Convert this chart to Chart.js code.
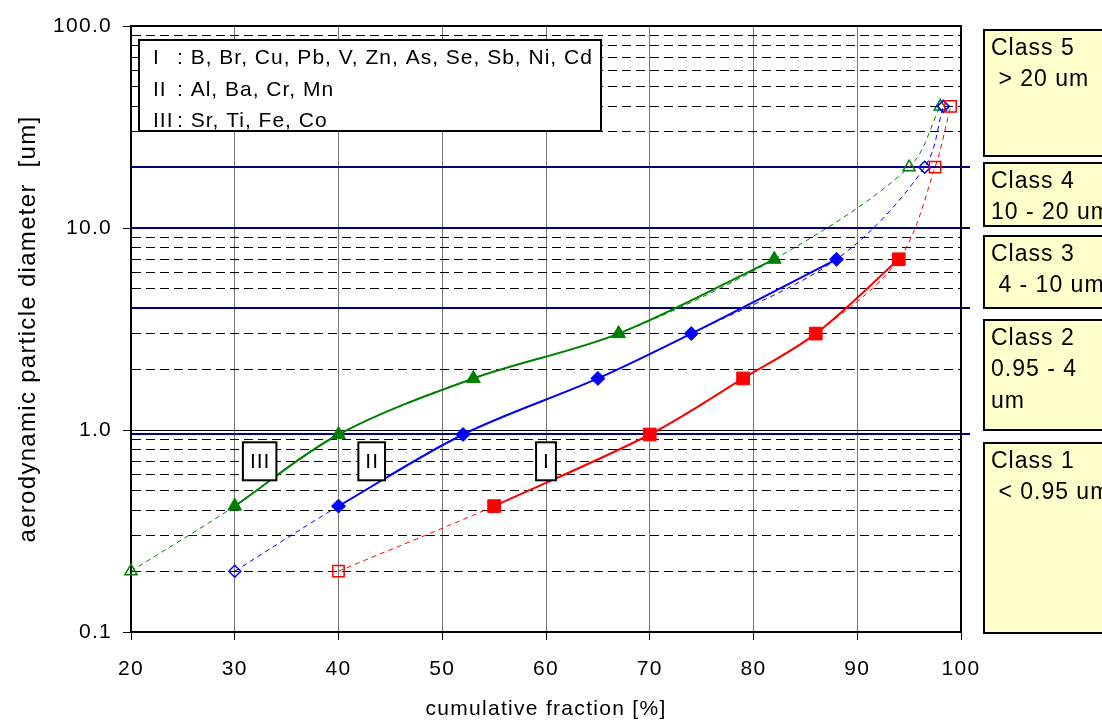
<!DOCTYPE html>
<html>
<head>
<meta charset="utf-8">
<title>Cumulative particle size distribution</title>
<script src="https://cdn.jsdelivr.net/npm/chart.js@4.4.1/dist/chart.umd.min.js"></script>
<style>
  html, body { margin: 0; padding: 0; background: #fff; }
  #wrap { width: 1102px; height: 722px; position: relative; }
</style>
</head>
<body>
<div id="wrap"><canvas id="sizeChart"></canvas></div>
<script>
// stage cut diameters [um], shared by all element groups
const diameters = [0.2, 0.42, 0.95, 1.8, 3.0, 7.0, 20, 40];
// measured stages get filled markers, the others are extrapolated
const measured = [false, true, true, true, true, true, false, false];

// cumulative fraction [%] per element group
const fractionI = [40, 55, 70, 79, 86, 94, 97.5, 99];
const fractionII = [30, 40, 52, 65, 74, 88, 96.5, 98.3];
const fractionIII = [20, 30, 40, 53, 67, 82, 95, 98];

const yMajor = [0.1, 1, 10, 100];
const yDecades = [0.1, 1, 10];

// size class limits [um]
const classBounds = [0.95, 4, 10, 20];
const classLabels = [
  ['Class 5', ' > 20 um'],
  ['Class 4', '10 - 20 um'],
  ['Class 3', ' 4 - 10 um'],
  ['Class 2', '0.95 - 4', 'um'],
  ['Class 1', ' < 0.95 um']
];

const legendLines = [
  ['I', ': B, Br, Cu, Pb, V, Zn, As, Se, Sb, Ni, Cd'],
  ['II', ': Al, Ba, Cr, Mn'],
  ['III', ': Sr, Ti, Fe, Co']
];

// group tags sitting next to the curves
const tagNames = ['III', 'II', 'I'];
const tagX = [32.4, 43.2, 60];
const tagY = [0.7, 0.7, 0.7];

const FONT = 'Liberation Sans, Arial, sans-serif';

function points(fr, onlyMeasured) {
  const out = [];
  fr.forEach((f, i) => {
    if (!onlyMeasured || measured[i]) out.push({ x: f, y: diameters[i] });
  });
  return out;
}

function solidSet(fr, color, style, r) {
  return {
    data: points(fr, true),
    showLine: true,
    borderColor: color,
    borderWidth: 2,
    tension: 0.33,
    pointStyle: style,
    pointRadius: r,
    pointHoverRadius: r,
    pointBackgroundColor: color,
    pointBorderColor: color,
    pointBorderWidth: 1,
    clip: false
  };
}

function dashedSet(fr, color, style, r) {
  return {
    data: points(fr, false),
    showLine: true,
    borderColor: color,
    borderWidth: 1,
    borderDash: [5, 4],
    tension: 0.33,
    pointStyle: style,
    pointRadius: measured.map(m => (m ? 0 : r)),
    pointHoverRadius: measured.map(m => (m ? 0 : r)),
    pointBackgroundColor: 'rgba(0,0,0,0)',
    pointBorderColor: color,
    pointBorderWidth: 1.5,
    clip: false
  };
}

const decor = {
  id: 'decor',
  beforeDraw(chart) {
    chart.ctx.letterSpacing = '1.3px';
  },
  beforeDatasetsDraw(chart) {
    const { ctx, chartArea: a, scales } = chart;
    const ys = scales.y;
    ctx.save();
    // solid line at 1.0
    const y1 = Math.round(ys.getPixelForValue(1)) + 0.5;
    ctx.strokeStyle = '#000';
    ctx.lineWidth = 1;
    ctx.beginPath();
    ctx.moveTo(a.left, y1);
    ctx.lineTo(a.right, y1);
    ctx.stroke();
    // class limits
    ctx.strokeStyle = '#000080';
    ctx.lineWidth = 2;
    classBounds.forEach(v => {
      const y = Math.round(ys.getPixelForValue(v));
      ctx.beginPath();
      ctx.moveTo(a.left, y);
      ctx.lineTo(a.right + 9, y);
      ctx.stroke();
    });
    // plot frame
    ctx.strokeStyle = '#000';
    ctx.lineWidth = 2;
    ctx.strokeRect(a.left, a.top, a.right - a.left, a.bottom - a.top);
    // group legend
    const lx = a.left + 8, ly = a.top + 14;
    ctx.fillStyle = '#fff';
    ctx.fillRect(lx, ly, 462, 91);
    ctx.lineWidth = 2;
    ctx.strokeRect(lx, ly, 462, 91);
    ctx.fillStyle = '#000';
    ctx.font = '21px ' + FONT;
    ctx.letterSpacing = '1px';
    ctx.textBaseline = 'alphabetic';
    ctx.textAlign = 'left';
    legendLines.forEach((ln, i) => {
      const by = ly + 24 + i * 31.5;
      ctx.fillText(ln[0], lx + 14, by);
      ctx.fillText(ln[1], lx + 38, by);
    });
    ctx.restore();
  },
  afterDatasetsDraw(chart) {
    const { ctx, scales } = chart;
    ctx.save();
    ctx.font = '21px ' + FONT;
    ctx.letterSpacing = '1px';
    ctx.textAlign = 'center';
    ctx.textBaseline = 'middle';
    tagNames.forEach((t, i) => {
      const cx = scales.x.getPixelForValue(tagX[i]);
      const cy = scales.y.getPixelForValue(tagY[i]);
      const w = ctx.measureText(t).width + 13;
      const h = 38;
      ctx.fillStyle = '#fff';
      ctx.fillRect(cx - w / 2, cy - h / 2, w, h);
      ctx.strokeStyle = '#000';
      ctx.lineWidth = 2;
      ctx.strokeRect(cx - w / 2, cy - h / 2, w, h);
      ctx.fillStyle = '#000';
      ctx.fillText(t, cx + 0.5, cy + 1);
    });
    ctx.restore();
  },
  afterDraw(chart) {
    const { ctx } = chart;
    const boxes = [[30, 156], [163, 226], [236, 308], [320, 430], [443, 633]];
    ctx.save();
    ctx.font = '23px ' + FONT;
    ctx.letterSpacing = '1px';
    ctx.textAlign = 'left';
    ctx.textBaseline = 'alphabetic';
    boxes.forEach((b, i) => {
      ctx.fillStyle = '#ffffcc';
      ctx.fillRect(984, b[0], 140, b[1] - b[0]);
      ctx.strokeStyle = '#000';
      ctx.lineWidth = 2;
      ctx.strokeRect(984, b[0], 140, b[1] - b[0]);
      ctx.fillStyle = '#000';
      classLabels[i].forEach((txt, k) => {
        ctx.fillText(txt, 991, b[0] + 24.5 + k * 31.7);
      });
    });
    ctx.restore();
  }
};

new Chart(document.getElementById('sizeChart'), {
  type: 'scatter',
  data: {
    datasets: [
      solidSet(fractionI, '#ff0000', 'rect', 9),
      solidSet(fractionII, '#0000ff', 'rectRot', 7),
      solidSet(fractionIII, '#008000', 'triangle', 8),
      dashedSet(fractionI, '#ff0000', 'rect', 8),
      dashedSet(fractionII, '#0000ff', 'rectRot', 6),
      dashedSet(fractionIII, '#008000', 'triangle', 7)
    ]
  },
  options: {
    responsive: true,
    maintainAspectRatio: false,
    animation: false,
    layout: { padding: { top: 26, right: 141, left: 0, bottom: 0 } },
    plugins: {
      legend: { display: false },
      tooltip: { enabled: false }
    },
    scales: {
      x: {
        type: 'linear',
        min: 20,
        max: 100,
        afterFit: s => { s.height = 90; },
        ticks: {
          stepSize: 10,
          color: '#000',
          padding: 17,
          font: { family: FONT, size: 21 }
        },
        grid: {
          color: '#777',
          lineWidth: 1,
          tickColor: '#000',
          tickLength: 8
        },
        border: { color: '#000', width: 2 },
        title: {
          display: true,
          text: 'cumulative fraction [%]',
          color: '#000',
          font: { family: FONT, size: 21 },
          padding: { top: 0, bottom: 0 }
        }
      },
      y: {
        type: 'logarithmic',
        min: 0.1,
        max: 100,
        afterFit: s => { s.width = 131; },
        afterBuildTicks: s => {
          const t = [];
          yDecades.forEach(d => {
            for (let m = 1; m < 10; m++) t.push({ value: +(m * d).toPrecision(3) });
          });
          t.push({ value: 100 });
          s.ticks = t;
        },
        ticks: {
          autoSkip: false,
          color: '#000',
          padding: 11,
          font: { family: FONT, size: 21 },
          callback: v => (yMajor.includes(v) ? v.toFixed(1) : '')
        },
        grid: {
          color: '#000',
          lineWidth: 1,
          tickLength: 8,
          tickColor: c => (yMajor.includes(c.tick.value) ? '#000' : 'rgba(0,0,0,0)')
        },
        border: { color: '#000', width: 2, dash: [9, 5] },
        title: {
          display: true,
          text: 'aerodynamic particle diameter  [um]',
          color: '#000',
          font: { family: FONT, size: 24 },
          padding: { top: 14, bottom: 0 }
        }
      }
    }
  },
  plugins: [decor]
});
</script>
</body>
</html>
